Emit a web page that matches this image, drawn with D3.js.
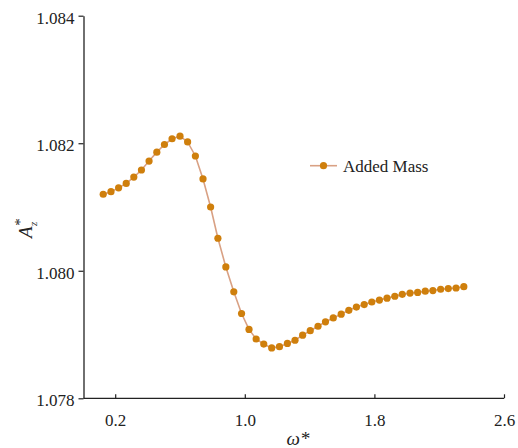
<!DOCTYPE html>
<html>
<head>
<meta charset="utf-8">
<script src="https://cdn.jsdelivr.net/npm/d3@7"></script>
<style>
  html, body { margin: 0; padding: 0; background: #fff; }
  svg { display: block; }
  text { font-family: "Liberation Serif", "Times New Roman", serif; fill: #222; }
</style>
</head>
<body>
<svg id="chart" width="518" height="448"></svg>
<script>
// ---- data ----
const omega = [0.126, 0.174, 0.221, 0.268, 0.315, 0.362, 0.409, 0.457, 0.504, 0.551,
  0.600, 0.647, 0.695, 0.742, 0.789, 0.834, 0.883, 0.932, 0.980, 1.026,
  1.070, 1.117, 1.166, 1.214, 1.263, 1.310, 1.357, 1.404, 1.452, 1.498,
  1.546, 1.595, 1.642, 1.689, 1.737, 1.784, 1.831, 1.878, 1.926, 1.972,
  2.020, 2.067, 2.114, 2.161, 2.209, 2.256, 2.304, 2.352];
const addedMass = [1.08120, 1.08124, 1.08130, 1.08137, 1.08147, 1.08158, 1.08172, 1.08186, 1.08198, 1.08207,
  1.08211, 1.08202, 1.08180, 1.08144, 1.08100, 1.08051, 1.08006, 1.07967, 1.07933, 1.07908,
  1.07893, 1.07885, 1.07879, 1.07881, 1.07886, 1.07891, 1.07899, 1.07906, 1.07913, 1.07920,
  1.07926, 1.07932, 1.07938, 1.07943, 1.07947, 1.07951, 1.07954, 1.07957, 1.07960, 1.07963,
  1.07965, 1.07966, 1.07968, 1.07969, 1.07971, 1.07972, 1.07973, 1.07975];
const xTicks = [0.2, 1.0, 1.8, 2.6];
const xTickLabels = ["0.2", "1.0", "1.8", "2.6"];
const yTicks = [1.078, 1.080, 1.082, 1.084];
const yTickLabels = ["1.078", "1.080", "1.082", "1.084"];
const seriesName = "Added Mass";

// ---- layout ----
const svg = d3.select("#chart");
const pLeft = 83.5, pRight = 504, pTop = 15.7, pBottom = 398.3;
const x = d3.scaleLinear().domain([0, 2.6]).range([82.8, 504]);
const y = d3.scaleLinear().domain([1.078, 1.084]).range([pBottom, pTop]);

const lineColor = "#d9a184";
const markColor = "#cf7f0c";

// axes
const xAxis = d3.axisBottom(x).tickValues(xTicks).tickFormat((d, i) => xTickLabels[i])
  .tickSizeInner(-4).tickSizeOuter(0).tickPadding(16);
const gx = svg.append("g").attr("transform", `translate(0,${pBottom})`).call(xAxis);
gx.select(".domain").attr("d", `M${pLeft},0H${pRight}`);

const yAxis = d3.axisLeft(y).tickValues(yTicks).tickFormat((d, i) => yTickLabels[i])
  .tickSize(5).tickSizeOuter(0).tickPadding(4);
const gy = svg.append("g").attr("transform", `translate(${pLeft},0)`).call(yAxis);

[gx, gy].forEach(g => {
  g.select(".domain").attr("stroke", "#222").attr("stroke-width", 1.3);
  g.selectAll(".tick line").attr("stroke", "#222").attr("stroke-width", 1.2);
  g.selectAll(".tick text").attr("font-size", 17)
    .attr("font-family", '"Liberation Serif", serif').attr("fill", "#222");
});
gy.selectAll(".tick text").attr("dy", "0.45em");

// line
const data = omega.map((w, i) => ({ w, v: addedMass[i] }));
svg.append("path").datum(data)
  .attr("fill", "none").attr("stroke", lineColor).attr("stroke-width", 1.6)
  .attr("d", d3.line().x(d => x(d.w)).y(d => y(d.v)));
svg.append("g").selectAll("circle").data(data).join("circle")
  .attr("cx", d => x(d.w)).attr("cy", d => y(d.v)).attr("r", 3.6)
  .attr("fill", markColor);

// legend
const lg = svg.append("g").attr("transform", "translate(310,165.7)");
lg.append("line").attr("x1", 0).attr("x2", 27).attr("y1", 0).attr("y2", 0)
  .attr("stroke", lineColor).attr("stroke-width", 1.6);
lg.append("circle").attr("cx", 13.5).attr("cy", 0).attr("r", 3.6).attr("fill", markColor);
lg.append("text").attr("x", 33).attr("y", 6).attr("font-size", 17).text(seriesName);

// axis titles
svg.append("text").attr("x", 298).attr("y", 445).attr("text-anchor", "middle")
  .attr("font-size", 19).attr("font-style", "italic").text("ω*");

const yt = svg.append("text").attr("transform", "translate(32,238) rotate(-90)")
  .attr("font-size", 19).attr("font-style", "italic");
yt.append("tspan").text("A");
yt.append("tspan").attr("dy", -7).attr("font-size", 15).text("*");
yt.append("tspan").attr("dx", -7).attr("dy", 12).attr("font-size", 11).text("z");
</script>
</body>
</html>
